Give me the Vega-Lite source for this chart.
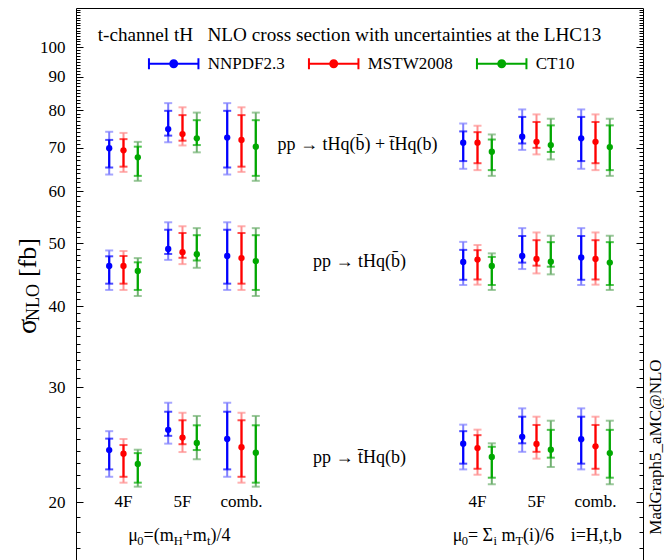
{
  "$schema": "https://vega.github.io/schema/vega-lite/v6.json",
  "width": 567,
  "height": 560,
  "autosize": "none",
  "padding": {"left": 76, "top": 8, "right": 21, "bottom": 0},
  "background": "white",
  "config": {
    "font": "Liberation Serif",
    "view": {"stroke": "black", "strokeWidth": 1},
    "text": {"font": "Liberation Serif", "color": "black"}
  },
  "datasets": {
    "xs": [
      {"proc": "tHq+tbarHq", "slot": "A 4F", "pdf": "NNPDF2.3", "c": 69.9, "ilo": 65.3, "ihi": 72.0, "olo": 63.7, "ohi": 74.1},
      {"proc": "tHq+tbarHq", "slot": "A 4F", "pdf": "MSTW2008", "c": 69.4, "ilo": 65.5, "ihi": 72.2, "olo": 64.3, "ohi": 73.8},
      {"proc": "tHq+tbarHq", "slot": "A 4F", "pdf": "CT10", "c": 67.7, "ilo": 63.4, "ihi": 70.3, "olo": 62.3, "ohi": 71.5},
      {"proc": "tHq+tbarHq", "slot": "A 5F", "pdf": "NNPDF2.3", "c": 74.8, "ilo": 73.1, "ihi": 79.8, "olo": 71.4, "ohi": 82.0},
      {"proc": "tHq+tbarHq", "slot": "A 5F", "pdf": "MSTW2008", "c": 73.5, "ilo": 71.8, "ihi": 78.6, "olo": 70.6, "ohi": 80.8},
      {"proc": "tHq+tbarHq", "slot": "A 5F", "pdf": "CT10", "c": 72.4, "ilo": 70.7, "ihi": 77.2, "olo": 68.9, "ohi": 79.3},
      {"proc": "tHq+tbarHq", "slot": "A comb.", "pdf": "NNPDF2.3", "c": 72.6, "ilo": 65.3, "ihi": 79.8, "olo": 63.7, "ohi": 82.0},
      {"proc": "tHq+tbarHq", "slot": "A comb.", "pdf": "MSTW2008", "c": 72.0, "ilo": 65.5, "ihi": 78.6, "olo": 64.3, "ohi": 80.8},
      {"proc": "tHq+tbarHq", "slot": "A comb.", "pdf": "CT10", "c": 70.3, "ilo": 63.4, "ihi": 77.2, "olo": 62.3, "ohi": 79.3},
      {"proc": "tHq", "slot": "A 4F", "pdf": "NNPDF2.3", "c": 46.1, "ilo": 43.3, "ihi": 47.7, "olo": 42.35, "ohi": 48.7},
      {"proc": "tHq", "slot": "A 4F", "pdf": "MSTW2008", "c": 46.1, "ilo": 43.3, "ihi": 47.75, "olo": 42.35, "ohi": 48.6},
      {"proc": "tHq", "slot": "A 4F", "pdf": "CT10", "c": 45.3, "ilo": 42.35, "ihi": 46.7, "olo": 41.45, "ohi": 47.4},
      {"proc": "tHq", "slot": "A 5F", "pdf": "NNPDF2.3", "c": 48.95, "ilo": 48.1, "ihi": 52.4, "olo": 47.1, "ohi": 53.8},
      {"proc": "tHq", "slot": "A 5F", "pdf": "MSTW2008", "c": 48.4, "ilo": 47.45, "ihi": 51.8, "olo": 46.4, "ohi": 53.05},
      {"proc": "tHq", "slot": "A 5F", "pdf": "CT10", "c": 48.05, "ilo": 47.0, "ihi": 51.4, "olo": 45.8, "ohi": 52.7},
      {"proc": "tHq", "slot": "A comb.", "pdf": "NNPDF2.3", "c": 47.75, "ilo": 43.3, "ihi": 52.4, "olo": 42.35, "ohi": 53.8},
      {"proc": "tHq", "slot": "A comb.", "pdf": "MSTW2008", "c": 47.4, "ilo": 43.3, "ihi": 51.8, "olo": 42.35, "ohi": 53.05},
      {"proc": "tHq", "slot": "A comb.", "pdf": "CT10", "c": 46.9, "ilo": 42.35, "ihi": 51.4, "olo": 41.45, "ohi": 52.7},
      {"proc": "tbarHq", "slot": "A 4F", "pdf": "NNPDF2.3", "c": 24.04, "ilo": 22.45, "ihi": 25.03, "olo": 21.87, "ohi": 25.7},
      {"proc": "tbarHq", "slot": "A 4F", "pdf": "MSTW2008", "c": 23.73, "ilo": 21.87, "ihi": 24.47, "olo": 21.42, "ohi": 25.0},
      {"proc": "tbarHq", "slot": "A 4F", "pdf": "CT10", "c": 22.88, "ilo": 21.42, "ihi": 23.78, "olo": 21.12, "ohi": 24.07},
      {"proc": "tbarHq", "slot": "A 5F", "pdf": "NNPDF2.3", "c": 25.82, "ilo": 25.28, "ihi": 27.53, "olo": 24.59, "ohi": 28.42},
      {"proc": "tbarHq", "slot": "A 5F", "pdf": "MSTW2008", "c": 25.12, "ilo": 24.54, "ihi": 26.71, "olo": 23.87, "ohi": 27.43},
      {"proc": "tbarHq", "slot": "A 5F", "pdf": "CT10", "c": 24.65, "ilo": 24.04, "ihi": 26.24, "olo": 23.27, "ohi": 27.12},
      {"proc": "tbarHq", "slot": "A comb.", "pdf": "NNPDF2.3", "c": 25.0, "ilo": 22.45, "ihi": 27.53, "olo": 21.87, "ohi": 28.42},
      {"proc": "tbarHq", "slot": "A comb.", "pdf": "MSTW2008", "c": 24.28, "ilo": 21.87, "ihi": 26.71, "olo": 21.42, "ohi": 27.43},
      {"proc": "tbarHq", "slot": "A comb.", "pdf": "CT10", "c": 23.81, "ilo": 21.42, "ihi": 26.24, "olo": 21.12, "ohi": 27.12},
      {"proc": "tHq+tbarHq", "slot": "B 4F", "pdf": "NNPDF2.3", "c": 71.3, "ilo": 66.8, "ihi": 74.2, "olo": 65.0, "ohi": 76.3},
      {"proc": "tHq+tbarHq", "slot": "B 4F", "pdf": "MSTW2008", "c": 71.3, "ilo": 66.3, "ihi": 74.0, "olo": 64.7, "ohi": 75.7},
      {"proc": "tHq+tbarHq", "slot": "B 4F", "pdf": "CT10", "c": 69.05, "ilo": 64.7, "ihi": 72.1, "olo": 63.4, "ohi": 73.4},
      {"proc": "tHq+tbarHq", "slot": "B 5F", "pdf": "NNPDF2.3", "c": 72.8, "ilo": 71.1, "ihi": 78.1, "olo": 69.5, "ohi": 80.2},
      {"proc": "tHq+tbarHq", "slot": "B 5F", "pdf": "MSTW2008", "c": 71.5, "ilo": 70.0, "ihi": 76.7, "olo": 68.4, "ohi": 78.8},
      {"proc": "tHq+tbarHq", "slot": "B 5F", "pdf": "CT10", "c": 70.7, "ilo": 69.0, "ihi": 75.8, "olo": 67.2, "ohi": 77.6},
      {"proc": "tHq+tbarHq", "slot": "B comb.", "pdf": "NNPDF2.3", "c": 72.4, "ilo": 66.8, "ihi": 78.1, "olo": 65.0, "ohi": 80.2},
      {"proc": "tHq+tbarHq", "slot": "B comb.", "pdf": "MSTW2008", "c": 71.5, "ilo": 66.3, "ihi": 76.7, "olo": 64.7, "ohi": 78.8},
      {"proc": "tHq+tbarHq", "slot": "B comb.", "pdf": "CT10", "c": 70.2, "ilo": 64.7, "ihi": 75.8, "olo": 63.4, "ohi": 77.6},
      {"proc": "tHq", "slot": "B 4F", "pdf": "NNPDF2.3", "c": 46.75, "ilo": 43.9, "ihi": 48.8, "olo": 43.1, "ohi": 50.2},
      {"proc": "tHq", "slot": "B 4F", "pdf": "MSTW2008", "c": 47.15, "ilo": 43.95, "ihi": 48.75, "olo": 43.15, "ohi": 49.65},
      {"proc": "tHq", "slot": "B 4F", "pdf": "CT10", "c": 46.1, "ilo": 43.1, "ihi": 47.6, "olo": 42.35, "ohi": 48.2},
      {"proc": "tHq", "slot": "B 5F", "pdf": "NNPDF2.3", "c": 47.75, "ilo": 46.65, "ihi": 51.25, "olo": 45.6, "ohi": 52.7},
      {"proc": "tHq", "slot": "B 5F", "pdf": "MSTW2008", "c": 47.25, "ilo": 46.15, "ihi": 50.5, "olo": 44.9, "ohi": 51.9},
      {"proc": "tHq", "slot": "B 5F", "pdf": "CT10", "c": 46.8, "ilo": 45.98, "ihi": 50.15, "olo": 44.75, "ohi": 51.3},
      {"proc": "tHq", "slot": "B comb.", "pdf": "NNPDF2.3", "c": 47.5, "ilo": 43.9, "ihi": 51.25, "olo": 43.1, "ohi": 52.7},
      {"proc": "tHq", "slot": "B comb.", "pdf": "MSTW2008", "c": 47.25, "ilo": 43.95, "ihi": 50.5, "olo": 43.15, "ohi": 51.9},
      {"proc": "tHq", "slot": "B comb.", "pdf": "CT10", "c": 46.65, "ilo": 43.1, "ihi": 50.15, "olo": 42.35, "ohi": 51.3},
      {"proc": "tbarHq", "slot": "B 4F", "pdf": "NNPDF2.3", "c": 24.59, "ilo": 22.91, "ihi": 25.7, "olo": 22.45, "ohi": 26.3},
      {"proc": "tbarHq", "slot": "B 4F", "pdf": "MSTW2008", "c": 24.21, "ilo": 22.5, "ihi": 25.34, "olo": 22.03, "ohi": 25.84},
      {"proc": "tbarHq", "slot": "B 4F", "pdf": "CT10", "c": 23.46, "ilo": 21.8, "ihi": 24.32, "olo": 21.3, "ohi": 24.62},
      {"proc": "tbarHq", "slot": "B 5F", "pdf": "NNPDF2.3", "c": 25.19, "ilo": 24.62, "ihi": 27.05, "olo": 23.89, "ohi": 27.86},
      {"proc": "tbarHq", "slot": "B 5F", "pdf": "MSTW2008", "c": 24.56, "ilo": 23.89, "ihi": 26.27, "olo": 23.32, "ohi": 27.05},
      {"proc": "tbarHq", "slot": "B 5F", "pdf": "CT10", "c": 24.07, "ilo": 23.4, "ihi": 25.82, "olo": 22.64, "ohi": 26.67},
      {"proc": "tbarHq", "slot": "B comb.", "pdf": "NNPDF2.3", "c": 24.98, "ilo": 22.91, "ihi": 27.05, "olo": 22.45, "ohi": 27.86},
      {"proc": "tbarHq", "slot": "B comb.", "pdf": "MSTW2008", "c": 24.36, "ilo": 22.5, "ihi": 26.27, "olo": 22.03, "ohi": 27.05},
      {"proc": "tbarHq", "slot": "B comb.", "pdf": "CT10", "c": 23.78, "ilo": 21.8, "ihi": 25.82, "olo": 21.3, "ohi": 26.67}
    ],
    "schemes": [
      {"slot": "A 4F", "scheme": "4F"},
      {"slot": "A 5F", "scheme": "5F"},
      {"slot": "A comb.", "scheme": "comb."},
      {"slot": "B 4F", "scheme": "4F"},
      {"slot": "B 5F", "scheme": "5F"},
      {"slot": "B comb.", "scheme": "comb."}
    ]
  },
  "layer": [
    {
      "data": {"name": "xs"},
      "layer": [
        {
          "mark": {"type": "rule", "strokeWidth": 2},
          "encoding": {
            "x": {"field": "slot", "type": "nominal", "scale": {"type": "band", "domain": ["A 4F", "A 5F", "A comb.", "gap1", "gap2", "gap3", "B 4F", "B 5F", "B comb."], "paddingInner": 0, "paddingOuter": 0.305}, "axis": null},
            "xOffset": {"field": "pdf", "type": "nominal", "scale": {"domain": ["NNPDF2.3", "MSTW2008", "CT10"], "paddingInner": 0, "paddingOuter": 0.563}},
            "y": {
              "field": "olo", "type": "quantitative", "title": "σ",
              "scale": {"type": "log", "domain": [15.84, 114.8], "nice": false, "zero": false},
              "axis": {
                "orient": "left",
                "values": [16,17,18,19,20,21,22,23,24,25,26,27,28,29,30,31,32,33,34,35,36,37,38,39,40,41,42,43,44,45,46,47,48,49,50,51,52,53,54,55,56,57,58,59,60,61,62,63,64,65,66,67,68,69,70,71,72,73,74,75,76,77,78,79,80,81,82,83,84,85,86,87,88,89,90,91,92,93,94,95,96,97,98,99,100,101,102,103,104,105,106,107,108,109,110,111,112,113,114],
                "labelExpr": "indexof([20,30,40,50,60,70,80,90,100], datum.value) >= 0 ? '' + datum.value : ''",
                "tickSize": {"condition": {"test": "indexof([20,30,40,50,60,70,80,90,100], datum.value) >= 0", "value": -7}, "value": -4},
                "labelPadding": 18,
                "domain": false,
                "grid": false,
                "tickColor": "black",
                "tickWidth": 1,
                "labelFont": "Liberation Serif",
                "labelFontSize": 17,
                "labelColor": "black",
                "labelOverlap": false,
                "labelFlush": false,
                "titleFont": "Liberation Serif",
                "titleFontSize": 28,
                "titleFontWeight": "normal",
                "titleColor": "black",
                "titleAngle": -90,
                "titleAlign": "center",
                "titleBaseline": "middle",
                "titleX": -49,
                "titleY": 318
              }
            },
            "y2": {"field": "ohi"},
            "stroke": {"field": "pdf", "type": "nominal", "scale": {"domain": ["CT10", "MSTW2008", "NNPDF2.3"], "range": ["#70b070", "#ff9090", "#8080ff"]}, "legend": null}
          }
        },
        {
          "mark": {"type": "rule", "strokeWidth": 2.2},
          "encoding": {
            "x": {"field": "slot", "type": "nominal"},
            "xOffset": {"field": "pdf", "type": "nominal"},
            "y": {"field": "ilo", "type": "quantitative", "title": "σ"},
            "y2": {"field": "ihi"},
            "color": {
              "field": "pdf", "type": "nominal",
              "scale": {"domain": ["NNPDF2.3", "MSTW2008", "CT10"], "range": ["#0000ff", "#ff0000", "#00a800"]},
              "legend": {
                "orient": "none",
                "legendX": 71.7,
                "legendY": 29.5,
                "direction": "horizontal",
                "title": null,
                "symbolType": "M-1,0H1M-1,-0.22V0.22M1,-0.22V0.22M-0.14,0A0.14,0.14,0,1,1,0.14,0A0.14,0.14,0,1,1,-0.14,0Z",
                "symbolSize": 2450,
                "symbolStrokeWidth": 2,
                "symbolOpacity": 1,
                "labelFont": "Liberation Serif",
                "labelFontSize": 17,
                "labelColor": "black",
                "labelOffset": 8,
                "columnPadding": 20,
                "padding": 0,
                "encode": {"symbols": {"update": {"fill": {"scale": "color", "field": "value"}, "stroke": {"scale": "color", "field": "value"}}}}
              }
            }
          }
        },
        {
          "mark": {"type": "tick", "orient": "horizontal", "size": 8, "thickness": 2},
          "encoding": {
            "x": {"field": "slot", "type": "nominal"},
            "xOffset": {"field": "pdf", "type": "nominal"},
            "y": {"field": "olo", "type": "quantitative", "title": "σ"},
            "fill": {"field": "pdf", "type": "nominal", "scale": {"domain": ["CT10", "MSTW2008", "NNPDF2.3"], "range": ["#70b070", "#ff9090", "#8080ff"]}, "legend": null}
          }
        },
        {
          "mark": {"type": "tick", "orient": "horizontal", "size": 8, "thickness": 2},
          "encoding": {
            "x": {"field": "slot", "type": "nominal"},
            "xOffset": {"field": "pdf", "type": "nominal"},
            "y": {"field": "ohi", "type": "quantitative", "title": "σ"},
            "fill": {"field": "pdf", "type": "nominal", "legend": null}
          }
        },
        {
          "mark": {"type": "tick", "orient": "horizontal", "size": 8, "thickness": 2},
          "encoding": {
            "x": {"field": "slot", "type": "nominal"},
            "xOffset": {"field": "pdf", "type": "nominal"},
            "y": {"field": "ilo", "type": "quantitative", "title": "σ"},
            "color": {"field": "pdf", "type": "nominal"}
          }
        },
        {
          "mark": {"type": "tick", "orient": "horizontal", "size": 8, "thickness": 2},
          "encoding": {
            "x": {"field": "slot", "type": "nominal"},
            "xOffset": {"field": "pdf", "type": "nominal"},
            "y": {"field": "ihi", "type": "quantitative", "title": "σ"},
            "color": {"field": "pdf", "type": "nominal"}
          }
        },
        {
          "mark": {"type": "point", "filled": true, "size": 40, "opacity": 1},
          "encoding": {
            "x": {"field": "slot", "type": "nominal"},
            "xOffset": {"field": "pdf", "type": "nominal"},
            "y": {"field": "c", "type": "quantitative", "title": "σ"},
            "color": {"field": "pdf", "type": "nominal"}
          }
        },
        {
          "data": {"name": "schemes"},
          "mark": {"type": "text", "fontSize": 17, "baseline": "middle", "align": "center"},
          "encoding": {
            "x": {"field": "slot", "type": "nominal"},
            "y": {"datum": 20, "type": "quantitative"},
            "text": {"field": "scheme"}
          }
        },
        {
          "data": {"values": [{"label": "t-channel tH\u00a0\u00a0\u00a0NLO cross section with uncertainties at the LHC13"}]},
          "mark": {"type": "text", "fontSize": 19.2, "baseline": "middle", "align": "center", "dx": -10},
          "encoding": {"x": {"datum": "gap2"}, "y": {"datum": 104.3, "type": "quantitative"}, "text": {"field": "label"}}
        },
        {
          "data": {"values": [{"label": "pp → tHq(b\u0304) + t\u0304Hq(b)"}]},
          "mark": {"type": "text", "fontSize": 18, "baseline": "middle", "align": "center", "dx": -2},
          "encoding": {"x": {"datum": "gap2"}, "y": {"datum": 70.7, "type": "quantitative"}, "text": {"field": "label"}}
        },
        {
          "data": {"values": [{"label": "pp → tHq(b\u0304)"}]},
          "mark": {"type": "text", "fontSize": 18, "baseline": "middle", "align": "center"},
          "encoding": {"x": {"datum": "gap2"}, "y": {"datum": 46.8, "type": "quantitative"}, "text": {"field": "label"}}
        },
        {
          "data": {"values": [{"label": "pp → t\u0304Hq(b)"}]},
          "mark": {"type": "text", "fontSize": 18, "baseline": "middle", "align": "center"},
          "encoding": {"x": {"datum": "gap2"}, "y": {"datum": 23.37, "type": "quantitative"}, "text": {"field": "label"}}
        },
        {"data": {"values": [{"t": "μ"}]}, "mark": {"type": "text", "fontSize": 18, "baseline": "middle", "align": "left", "dx": 4.8}, "encoding": {"x": {"datum": "A 4F"}, "y": {"datum": 17.74, "type": "quantitative"}, "text": {"field": "t"}}},
        {"data": {"values": [{"t": "0"}]}, "mark": {"type": "text", "fontSize": 12.5, "baseline": "middle", "align": "left", "dx": 13.8, "dy": 5}, "encoding": {"x": {"datum": "A 4F"}, "y": {"datum": 17.74, "type": "quantitative"}, "text": {"field": "t"}}},
        {"data": {"values": [{"t": "=(m"}]}, "mark": {"type": "text", "fontSize": 18, "baseline": "middle", "align": "left", "dx": 20.05}, "encoding": {"x": {"datum": "A 4F"}, "y": {"datum": 17.74, "type": "quantitative"}, "text": {"field": "t"}}},
        {"data": {"values": [{"t": "H"}]}, "mark": {"type": "text", "fontSize": 12.5, "baseline": "middle", "align": "left", "dx": 50.2, "dy": 5}, "encoding": {"x": {"datum": "A 4F"}, "y": {"datum": 17.74, "type": "quantitative"}, "text": {"field": "t"}}},
        {"data": {"values": [{"t": "+m"}]}, "mark": {"type": "text", "fontSize": 18, "baseline": "middle", "align": "left", "dx": 59.2}, "encoding": {"x": {"datum": "A 4F"}, "y": {"datum": 17.74, "type": "quantitative"}, "text": {"field": "t"}}},
        {"data": {"values": [{"t": "t"}]}, "mark": {"type": "text", "fontSize": 12.5, "baseline": "middle", "align": "left", "dx": 83.4, "dy": 5}, "encoding": {"x": {"datum": "A 4F"}, "y": {"datum": 17.74, "type": "quantitative"}, "text": {"field": "t"}}},
        {"data": {"values": [{"t": ")/4"}]}, "mark": {"type": "text", "fontSize": 18, "baseline": "middle", "align": "left", "dx": 86.9}, "encoding": {"x": {"datum": "A 4F"}, "y": {"datum": 17.74, "type": "quantitative"}, "text": {"field": "t"}}},
        {"data": {"values": [{"t": "μ"}]}, "mark": {"type": "text", "fontSize": 18, "baseline": "middle", "align": "left", "dx": -24.8}, "encoding": {"x": {"datum": "B 4F"}, "y": {"datum": 17.74, "type": "quantitative"}, "text": {"field": "t"}}},
        {"data": {"values": [{"t": "0"}]}, "mark": {"type": "text", "fontSize": 12.5, "baseline": "middle", "align": "left", "dx": -15.8, "dy": 5}, "encoding": {"x": {"datum": "B 4F"}, "y": {"datum": 17.74, "type": "quantitative"}, "text": {"field": "t"}}},
        {"data": {"values": [{"t": "=\u00a0Σ"}]}, "mark": {"type": "text", "fontSize": 18, "baseline": "middle", "align": "left", "dx": -9.55}, "encoding": {"x": {"datum": "B 4F"}, "y": {"datum": 17.74, "type": "quantitative"}, "text": {"field": "t"}}},
        {"data": {"values": [{"t": "i"}]}, "mark": {"type": "text", "fontSize": 12.5, "baseline": "middle", "align": "left", "dx": 15.9, "dy": 5}, "encoding": {"x": {"datum": "B 4F"}, "y": {"datum": 17.74, "type": "quantitative"}, "text": {"field": "t"}}},
        {"data": {"values": [{"t": "m"}]}, "mark": {"type": "text", "fontSize": 18, "baseline": "middle", "align": "left", "dx": 23.9}, "encoding": {"x": {"datum": "B 4F"}, "y": {"datum": 17.74, "type": "quantitative"}, "text": {"field": "t"}}},
        {"data": {"values": [{"t": "T"}]}, "mark": {"type": "text", "fontSize": 12.5, "baseline": "middle", "align": "left", "dx": 37.9, "dy": 5}, "encoding": {"x": {"datum": "B 4F"}, "y": {"datum": 17.74, "type": "quantitative"}, "text": {"field": "t"}}},
        {"data": {"values": [{"t": "(i)/6"}]}, "mark": {"type": "text", "fontSize": 18, "baseline": "middle", "align": "left", "dx": 45.5}, "encoding": {"x": {"datum": "B 4F"}, "y": {"datum": 17.74, "type": "quantitative"}, "text": {"field": "t"}}},
        {"data": {"values": [{"t": "i=H,t,b"}]}, "mark": {"type": "text", "fontSize": 18, "baseline": "middle", "align": "left", "dx": 93.2}, "encoding": {"x": {"datum": "B 4F"}, "y": {"datum": 17.74, "type": "quantitative"}, "text": {"field": "t"}}}
      ]
    },
    {
      "data": {"values": [{}]},
      "mark": {"type": "point", "opacity": 0},
      "encoding": {
        "y": {
          "datum": 50, "type": "quantitative",
          "axis": {
            "orient": "right",
            "values": [16,17,18,19,20,21,22,23,24,25,26,27,28,29,30,31,32,33,34,35,36,37,38,39,40,41,42,43,44,45,46,47,48,49,50,51,52,53,54,55,56,57,58,59,60,61,62,63,64,65,66,67,68,69,70,71,72,73,74,75,76,77,78,79,80,81,82,83,84,85,86,87,88,89,90,91,92,93,94,95,96,97,98,99,100,101,102,103,104,105,106,107,108,109,110,111,112,113,114],
            "labels": false,
            "tickSize": {"condition": {"test": "indexof([20,30,40,50,60,70,80,90,100], datum.value) >= 0", "value": -7}, "value": -4},
            "domain": false,
            "grid": false,
            "tickColor": "black",
            "tickWidth": 1,
            "title": "MadGraph5_aMC@NLO",
            "titleFont": "Liberation Serif",
            "titleFontSize": 17,
            "titleFontWeight": "normal",
            "titleColor": "black",
            "titleAngle": -90,
            "titleAlign": "center",
            "titleBaseline": "middle",
            "titleX": 12,
            "titleY": 438.5
          }
        }
      }
    },
    {
      "data": {"values": [{}]},
      "mark": {"type": "point", "opacity": 0},
      "encoding": {
        "y": {
          "datum": 50, "type": "quantitative",
          "axis": {
            "orient": "left", "labels": false, "ticks": false, "domain": false, "grid": false,
            "title": "NLO",
            "titleFont": "Liberation Serif", "titleFontSize": 18, "titleFontWeight": "normal", "titleColor": "black",
            "titleAngle": -90, "titleAlign": "center", "titleBaseline": "middle",
            "titleX": -43, "titleY": 294
          }
        }
      }
    },
    {
      "data": {"values": [{}]},
      "mark": {"type": "point", "opacity": 0},
      "encoding": {
        "y": {
          "datum": 50, "type": "quantitative",
          "axis": {
            "orient": "left", "labels": false, "ticks": false, "domain": false, "grid": false,
            "title": "[fb]",
            "titleFont": "Liberation Serif", "titleFontSize": 26, "titleFontWeight": "normal", "titleColor": "black",
            "titleAngle": -90, "titleAlign": "center", "titleBaseline": "middle",
            "titleX": -49, "titleY": 249
          }
        }
      }
    }
  ],
  "resolve": {"scale": {"y": "shared"}, "axis": {"y": "independent"}}
}
